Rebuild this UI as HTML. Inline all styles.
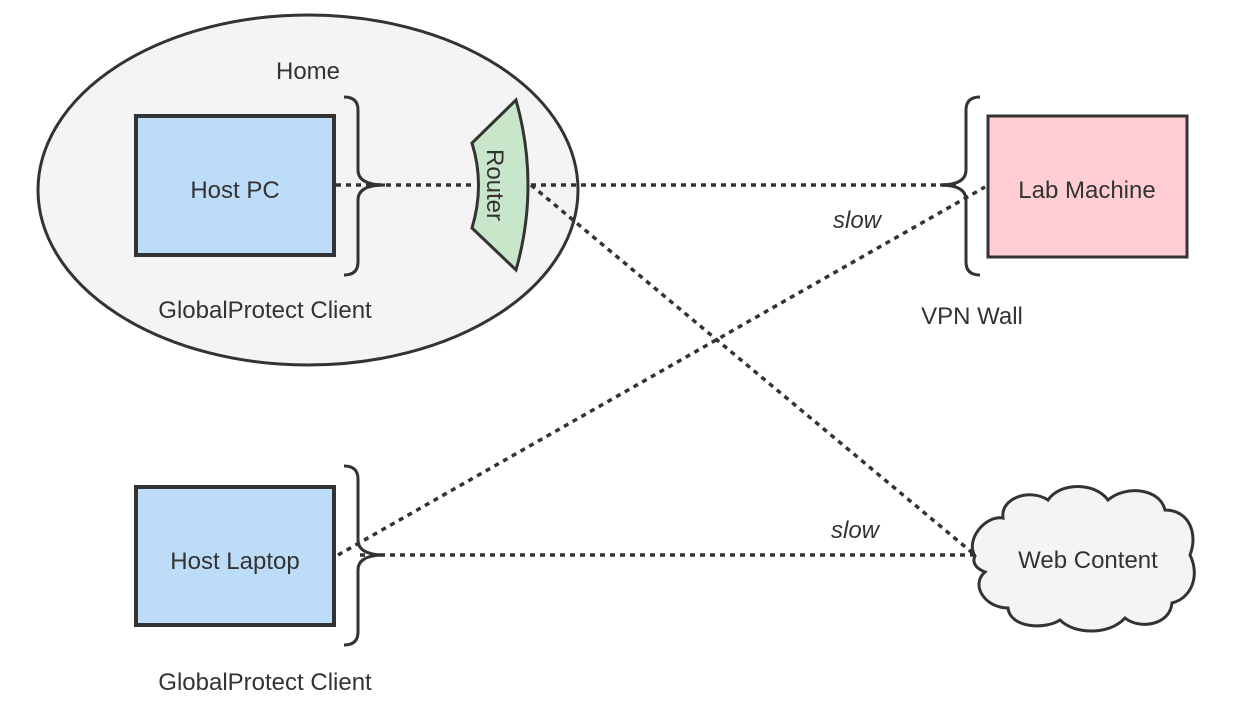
<!DOCTYPE html>
<html><head><style>body{margin:0;background:#fff}svg{display:block}text{font-family:"Liberation Sans",sans-serif;fill:#333;font-size:24px}</style></head><body>
<svg width="1258" height="725" viewBox="0 0 1258 725">
<ellipse cx="308" cy="190" rx="270" ry="175" fill="#f4f4f4" stroke="#333" stroke-width="3"/>
<text x="308" y="79" text-anchor="middle">Home</text>
<rect x="136" y="116" width="198" height="139" fill="#bcdcf8" stroke="#333" stroke-width="4"/>
<text x="235" y="198" text-anchor="middle">Host PC</text>
<path d="M344,97 Q358,97 358,110 L358,170 Q358,185 385,185 Q358,185 358,200 L358,262 Q358,275 344,275" fill="none" stroke="#333" stroke-width="3"/>
<text x="265" y="318" text-anchor="middle">GlobalProtect Client</text>
<g stroke="#333" stroke-width="3.5" stroke-dasharray="5,5" fill="none">
<line x1="336" y1="185" x2="473" y2="185"/>
<line x1="531" y1="185" x2="960" y2="185"/>
<line x1="531" y1="185" x2="975" y2="555"/>
<line x1="338" y1="555" x2="985" y2="187"/>
<line x1="360" y1="555" x2="975" y2="555"/>
</g>
<path d="M516,100 Q540,185 516,270 L472,228 Q485,185 472,143 Z" fill="#c8e6c9" stroke="#333" stroke-width="3"/>
<text transform="translate(487,185) rotate(90)" text-anchor="middle">Router</text>
<rect x="988" y="116" width="199" height="141" fill="#ffcdd2" stroke="#333" stroke-width="3"/>
<text x="1087" y="198" text-anchor="middle">Lab Machine</text>
<path d="M980,97 Q966,97 966,110 L966,170 Q966,185 940,185 Q966,185 966,200 L966,262 Q966,275 980,275" fill="none" stroke="#333" stroke-width="3"/>
<text x="972" y="324" text-anchor="middle">VPN Wall</text>
<text x="857" y="228" text-anchor="middle" font-style="italic">slow</text>
<text x="855" y="538" text-anchor="middle" font-style="italic">slow</text>
<path d="M975,556 C965,540 985,515 1003,518 C1000,498 1030,488 1048,500 C1060,482 1095,482 1108,500 C1125,485 1160,488 1165,510 C1190,510 1198,535 1190,555 C1200,575 1192,598 1172,603 C1170,625 1140,630 1125,618 C1110,635 1075,635 1060,620 C1045,630 1010,628 1008,608 C985,608 970,585 985,572 C975,568 972,562 975,556 Z" fill="#f4f4f4" stroke="#333" stroke-width="3"/>
<text x="1088" y="568" text-anchor="middle">Web Content</text>
<rect x="136" y="487" width="198" height="138" fill="#bcdcf8" stroke="#333" stroke-width="4"/>
<text x="235" y="569" text-anchor="middle">Host Laptop</text>
<path d="M344,466 Q358,466 358,479 L358,540 Q358,555 385,555 Q358,555 358,570 L358,632 Q358,645 344,645" fill="none" stroke="#333" stroke-width="3"/>
<text x="265" y="690" text-anchor="middle">GlobalProtect Client</text>
</svg>
</body></html>
